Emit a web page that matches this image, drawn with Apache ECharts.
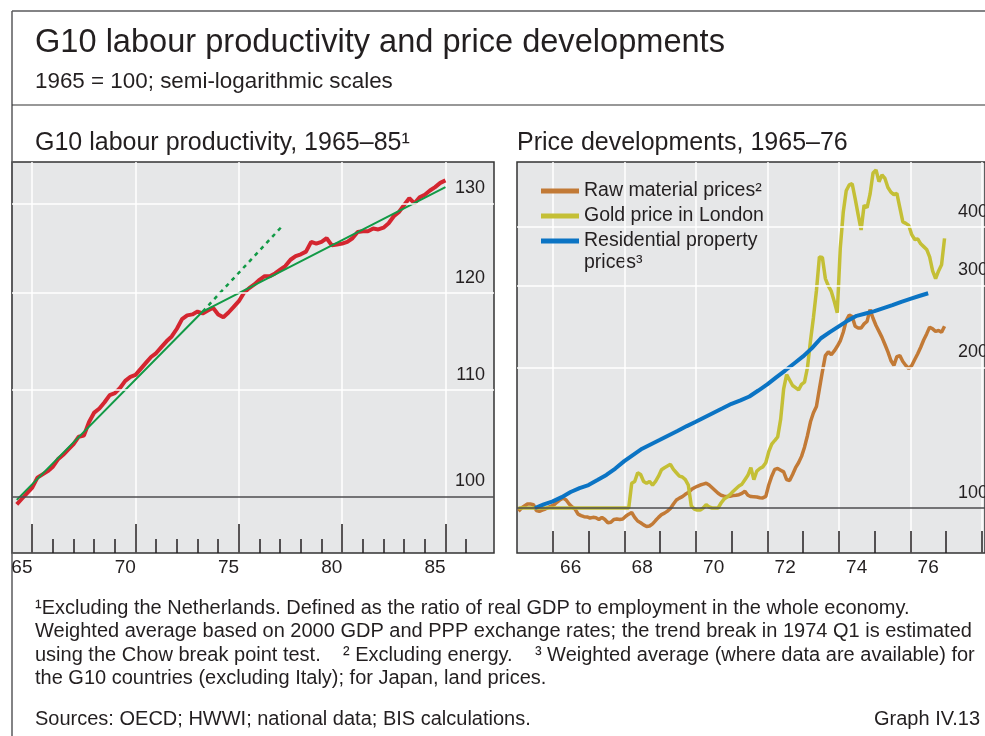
<!DOCTYPE html>
<html>
<head>
<meta charset="utf-8">
<script src="https://cdn.jsdelivr.net/npm/echarts@6/dist/echarts.min.js"></script>
<style>
html, body { margin: 0; padding: 0; background: #fff; }
#main { width: 985px; height: 736px; }
</style>
</head>
<body>
<div id="main"></div>
<script>
// left panel: quarterly, 1965 Q1 .. 1985 Q4 (1965 = 100)
var productivity = [99.3, 99.8, 100.3, 100.8, 101.7, 102.0, 102.3, 102.7, 103.4, 103.8,
    104.3, 104.8, 105.5, 105.6, 106.9, 107.8, 108.2, 108.8, 109.5, 109.7,
    110.2, 110.9, 111.3, 111.5, 112.1, 112.7, 113.3, 113.7, 114.3, 114.9,
    115.4, 116.2, 117.2, 117.6, 117.7, 118.0, 117.8, 118.1, 118.4, 117.7,
    117.4, 117.9, 118.5, 119.1, 120.0, 120.5, 120.9, 121.4, 121.8, 121.8,
    122.1, 122.5, 122.9, 123.6, 124.0, 124.2, 124.5, 125.6, 125.4, 125.6,
    126.0, 125.2, 125.3, 125.4, 125.6, 126.0, 126.7, 126.8, 126.8, 127.1,
    127.0, 127.2, 127.7, 128.5, 129.0, 129.8, 130.6, 130.0, 130.7, 131.0,
    131.5, 131.9, 132.4, 132.7];
// trend with a break in 1974 Q1, and the pre-break trend carried on
var trendYears = [65.0, 74.0, 85.75];
var trendValues = [99.7, 118.0, 131.9];
var oldTrendYears = [74.0, 77.9];
var oldTrendValues = [118.0, 127.5];
var prodTicks = [100, 110, 120, 130];
var prodYearLabels = ['65', '70', '75', '80', '85'];

// right panel: monthly 1965..1976, property quarterly from mid-1965
var rawMaterial = [98.4, 100, 101, 102, 102, 101.7, 98.8, 98.4, 99, 99.5, 100.3, 101,
    101.7, 103, 104.2, 105, 104, 102, 100.5, 99.5, 97, 96.3, 95.8, 95.7,
    95.2, 95.5, 95.3, 94.5, 95.5, 94.5, 93.0, 93.2, 94.5, 94.7, 94.5, 94.7,
    96.0, 97.0, 97.8, 95.5, 93.8, 93.0, 92.0, 91.3, 91.5, 92.5, 94.0, 95.5,
    96.8, 97.5, 98.5, 99.8, 102, 104, 105, 105.8, 107, 108, 109.5, 110.5,
    111.3, 112, 112.5, 113, 112, 110.5, 109, 107.5, 106.5, 106, 105.9, 106,
    106.3, 106.5, 106.8, 107.5, 108.6, 106.5, 105.8, 105.7, 105.6, 105.2, 105.1, 105.9,
    112, 117, 121, 121.5, 120.5, 119.5, 115, 114.5, 118, 122, 125, 129,
    135, 143, 153, 160, 165, 180, 196, 212, 216, 213, 217, 222,
    228, 238, 252, 259, 257, 245, 243, 243, 248, 251, 266, 255,
    246, 239, 232, 224, 216, 207, 202, 211, 212, 206, 202, 199,
    202, 208, 214, 221, 229, 236, 244, 242, 239, 240, 238, 245];
var goldPrice = [100, 100, 100, 100, 100, 100, 100, 100, 100, 100, 100, 100,
    100, 100, 100, 100, 100, 100, 100, 100, 100, 100, 100, 100,
    100, 100, 100, 100, 100, 100, 100, 100, 100, 100, 100, 100,
    100, 100, 113, 114, 119, 118, 114, 113, 114, 112, 114, 117,
    120.8, 122, 123, 124, 121, 119, 117, 116.5, 115, 112, 101, 99.5,
    99, 99, 100, 101.7, 100.5, 100, 100, 100, 102.5, 104.5, 105.5, 106.8,
    108.5, 110, 111.5, 112.5, 115, 117.5, 122, 115, 120, 121.5, 122.5, 125,
    132, 137, 139.5, 142, 155, 180, 193, 188, 183, 181, 179, 184,
    186, 200, 228, 256, 292, 345, 344, 310, 299, 291, 277, 262,
    360, 430, 478, 492, 495, 460, 425, 394, 445, 440, 470, 522,
    530, 500, 517, 508, 486, 475, 469, 472, 440, 410, 407, 403,
    385, 376, 377, 368, 363, 358, 345, 322, 310, 322, 332, 378];
var propertyPrices = [100, 101.8, 103.3, 105.5, 108.2, 110.3, 112.0, 114.8, 117.7, 121.5,
    126.0, 130.0, 134.0, 137.0, 140.0, 143.2, 146.4, 149.8, 153.0, 156.5,
    160.0, 163.5, 167.2, 170.0, 173.3, 178.5, 184.0, 190.5, 197.0, 204.0,
    211.2, 220.0, 231.0, 238.0, 245.0, 252.0, 258.0, 261.0, 264.0, 268.0,
    272.0, 276.5, 280.5, 284.5, 288.4];
var priceTicks = [100, 200, 300, 400];
var priceYearLabels = ['66', '68', '70', '72', '74', '76'];

var names = ['Raw material prices²', 'Gold price in London', 'Residential property prices³'];

var FONT = '"Liberation Sans", Arial, sans-serif';
var INK = '#231f20';
var NOTE = '20px ' + FONT;

function quarterly(vals, start) {
    return vals.map(function (v, i) { return [start + i / 4, v]; });
}
function monthly(vals) {
    return vals.map(function (v, i) { return [65 + (i + 0.5) / 12, v]; });
}
function pairs(xs, ys) {
    return xs.map(function (x, i) { return [x, ys[i]]; });
}
function range(a, b, step, skip) {
    var out = [];
    for (var v = a; v <= b + 1e-9; v += step) {
        if (!skip || !skip(v)) out.push(v);
    }
    return out;
}
function gridLines(ticks, base) {
    return ticks.map(function (t) {
        return {
            yAxis: t,
            lineStyle: t === base ? { color: '#4d4d4f', width: 1.5, type: 'solid' } : { color: '#fff', width: 1.5, type: 'solid' }
        };
    });
}
function gridLabel(dx) {
    return {
        show: true, position: 'insideEndTop', distance: [dx, 6], fontSize: 18, color: INK,
        formatter: function (p) { return p.value; }
    };
}
function note(x, y, text, align) {
    return { type: 'text', x: x, y: y, silent: true, style: { text: text, font: NOTE, fill: INK, align: align || 'left', verticalAlign: 'middle' } };
}

var leftMajor = prodYearLabels.map(function (y) { return Number(y) + 0.75; });
var leftMinor = range(65.75, 86.75, 1, function (v) { return leftMajor.indexOf(v) >= 0; });
var leftLabelPos = prodYearLabels.map(function (y) { return Number(y) + 0.25; });
var rightGrid = range(66, 78, 2);
var rightTicks = range(66, 78, 1);
var rightLabelPos = priceYearLabels.map(function (y) { return Number(y) + 0.5; });

var chart = echarts.init(document.getElementById('main'));

chart.setOption({
    animation: false,
    backgroundColor: '#fff',
    textStyle: { fontFamily: FONT },
    grid: [
        { left: 12, top: 162, width: 482, height: 391, show: true, backgroundColor: '#e6e7e8', borderColor: '#333', borderWidth: 1.5 },
        { left: 517, top: 162, width: 468, height: 391, show: true, backgroundColor: '#e6e7e8', borderColor: '#333', borderWidth: 1.5 }
    ],
    xAxis: [
        {
            gridIndex: 0, type: 'value', min: 64.77, max: 88.1, position: 'bottom',
            axisLine: { show: false },
            axisTick: { show: true, inside: true, length: 29, customValues: leftMajor, lineStyle: { color: INK, width: 1.5 } },
            splitLine: { show: true, lineStyle: { color: '#fff', width: 1.5 } },
            axisLabel: {
                customValues: leftLabelPos, margin: 5, fontSize: 19, color: INK,
                formatter: function (v) { return String(Math.floor(v)); }
            }
        },
        {
            gridIndex: 0, type: 'value', min: 64.77, max: 88.1, position: 'bottom',
            axisLine: { show: false },
            axisTick: { show: true, inside: true, length: 14, customValues: leftMinor, lineStyle: { color: INK, width: 1.5 } },
            splitLine: { show: false },
            axisLabel: { show: false }
        },
        {
            gridIndex: 1, type: 'value', min: 65, max: 78.09, position: 'bottom',
            axisLine: { show: false },
            axisTick: { show: true, inside: true, length: 22, customValues: rightGrid, lineStyle: { color: INK, width: 1.5 } },
            splitLine: { show: true, lineStyle: { color: '#fff', width: 1.5 } },
            axisLabel: {
                customValues: rightLabelPos, margin: 5, fontSize: 19, color: INK,
                formatter: function (v) { return String(Math.floor(v)); }
            }
        },
        {
            gridIndex: 1, type: 'value', min: 65, max: 78.09, position: 'bottom',
            axisLine: { show: false },
            axisTick: { show: true, inside: true, length: 22, customValues: rightTicks, lineStyle: { color: INK, width: 1.5 } },
            splitLine: { show: false },
            axisLabel: { show: false }
        }
    ],
    yAxis: [
        { gridIndex: 0, type: 'log', min: 95.07, max: 134.9, show: false },
        { gridIndex: 1, type: 'log', min: 80.1, max: 551, show: false }
    ],
    legend: {
        data: names,
        orient: 'vertical', left: 536, top: 175,
        itemWidth: 38, itemHeight: 5, itemGap: 3, icon: 'rect',
        selectedMode: false,
        textStyle: { fontSize: 19.5, color: INK, lineHeight: 22 },
        formatter: function (n) { return n === names[2] ? 'Residential property' : n; }
    },
    series: [
        {
            name: 'leftGrid', type: 'line', xAxisIndex: 0, yAxisIndex: 0, data: [], z: 1, silent: true,
            markLine: { silent: true, symbol: 'none', animation: false, label: gridLabel(9), data: gridLines(prodTicks, 100) }
        },
        {
            name: 'G10 labour productivity', type: 'line', xAxisIndex: 0, yAxisIndex: 0, z: 3,
            data: quarterly(productivity, 65), showSymbol: false,
            lineStyle: { color: '#d42630', width: 4 }
        },
        {
            name: 'Trend', type: 'line', xAxisIndex: 0, yAxisIndex: 0, z: 4,
            data: pairs(trendYears, trendValues), showSymbol: false,
            lineStyle: { color: '#129a46', width: 2 }
        },
        {
            name: 'Trend before the break', type: 'line', xAxisIndex: 0, yAxisIndex: 0, z: 4,
            data: pairs(oldTrendYears, oldTrendValues), showSymbol: false,
            lineStyle: { color: '#129a46', width: 2.5, type: [4, 4.5] }
        },
        {
            name: 'rightGrid', type: 'line', xAxisIndex: 2, yAxisIndex: 1, data: [], z: 1, silent: true,
            markLine: { silent: true, symbol: 'none', animation: false, label: gridLabel(-3), data: gridLines(priceTicks, 100) }
        },
        {
            name: names[0], type: 'line', xAxisIndex: 2, yAxisIndex: 1, z: 3,
            data: monthly(rawMaterial), showSymbol: false,
            itemStyle: { color: '#c27a36' }, lineStyle: { color: '#c27a36', width: 3.5 }
        },
        {
            name: names[1], type: 'line', xAxisIndex: 2, yAxisIndex: 1, z: 3,
            data: monthly(goldPrice), showSymbol: false,
            itemStyle: { color: '#c4bf36' }, lineStyle: { color: '#c4bf36', width: 3.5 }
        },
        {
            name: names[2], type: 'line', xAxisIndex: 2, yAxisIndex: 1, z: 3,
            data: quarterly(propertyPrices, 65.5), showSymbol: false,
            itemStyle: { color: '#0b74c4' }, lineStyle: { color: '#0b74c4', width: 4 }
        }
    ],
    graphic: [
        { type: 'line', silent: true, shape: { x1: 12, y1: 11, x2: 985, y2: 11 }, style: { stroke: '#5a5a5c', lineWidth: 1.5 } },
        { type: 'line', silent: true, shape: { x1: 12, y1: 11, x2: 12, y2: 736 }, style: { stroke: '#5a5a5c', lineWidth: 1.5 } },
        { type: 'line', silent: true, shape: { x1: 12, y1: 105, x2: 985, y2: 105 }, style: { stroke: '#333', lineWidth: 1.2 } },
        { type: 'text', x: 35, y: 43, style: { text: 'G10 labour productivity and price developments', font: '32.6px ' + FONT, fill: INK, verticalAlign: 'middle' } },
        { type: 'text', x: 35, y: 82, style: { text: '1965 = 100; semi-logarithmic scales', font: '22.4px ' + FONT, fill: INK, verticalAlign: 'middle' } },
        { type: 'text', x: 35, y: 143, style: { text: 'G10 labour productivity, 1965–85¹', font: '25px ' + FONT, fill: INK, verticalAlign: 'middle' } },
        { type: 'text', x: 517, y: 143, style: { text: 'Price developments, 1965–76', font: '25px ' + FONT, fill: INK, verticalAlign: 'middle' } },
        { type: 'text', x: 584, y: 263, style: { text: 'prices³', font: '19.5px ' + FONT, fill: INK, verticalAlign: 'middle' } },
        note(35, 608, '¹Excluding the Netherlands. Defined as the ratio of real GDP to employment in the whole economy.'),
        note(35, 631.5, 'Weighted average based on 2000 GDP and PPP exchange rates; the trend break in 1974 Q1 is estimated'),
        note(35, 655, 'using the Chow break point test.    ² Excluding energy.    ³ Weighted average (where data are available) for'),
        note(35, 678.5, 'the G10 countries (excluding Italy); for Japan, land prices.'),
        note(35, 719, 'Sources: OECD; HWWI; national data; BIS calculations.'),
        note(980, 719, 'Graph IV.13', 'right')
    ]
});
</script>
</body>
</html>
